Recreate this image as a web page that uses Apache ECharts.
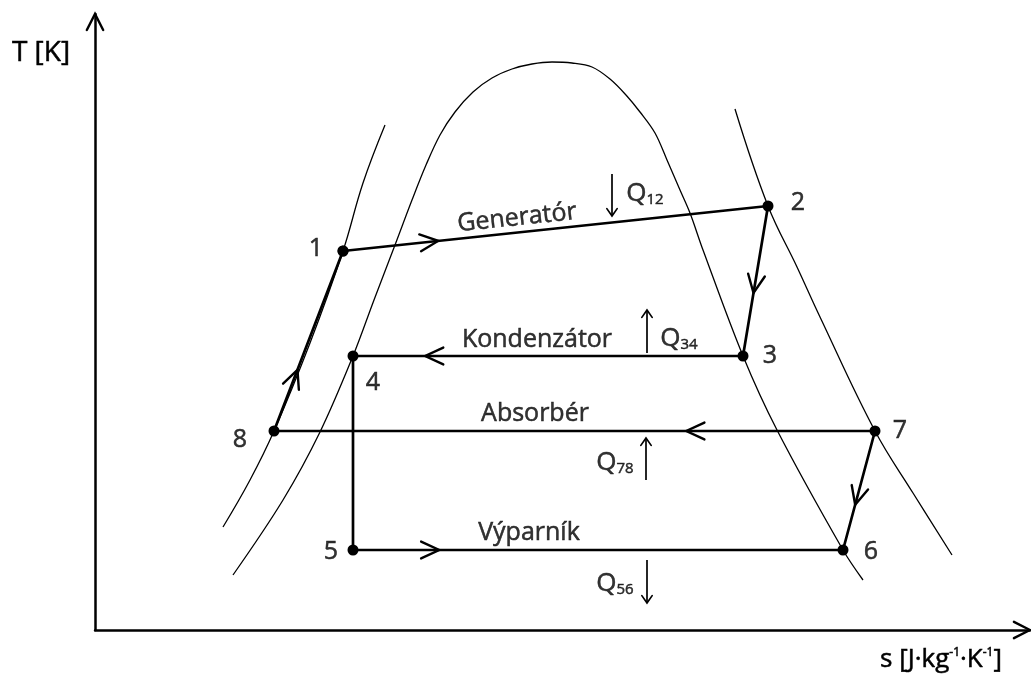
<!DOCTYPE html>
<html><head><meta charset="utf-8">
<script src="https://cdn.jsdelivr.net/npm/echarts@6/dist/echarts.min.js"></script>
<style>html,body{margin:0;padding:0;background:#fff}#c{width:1031px;height:682px}</style>
</head><body><div id="c"></div>
<script>
// Schematic T–s diagram of an absorption cycle (arbitrary units)
const pointNames = ['1','2','3','4','5','6','7','8'];
const pointS = [248, 673, 648, 258, 258, 748, 780, 179];
const pointT = [379, 424, 274, 274, 80, 80, 199, 199];

// thin curves
const curveLeftS = [290, 268, 248, 215, 179, 155, 128];
const curveLeftT = [505, 447, 379, 287, 199, 150, 103];
const domeS = [138, 188, 225, 258, 279, 300, 317, 331, 345, 360, 378, 397, 417, 437, 457, 477, 497, 515, 531, 545, 560, 572, 585, 595, 608, 648, 682, 748, 768];
const domeT = [55, 130, 198, 274, 330, 385, 430, 465, 495, 518, 538, 552, 561, 566, 568, 567, 563, 551, 535, 518, 497, 470, 440, 417, 380, 274, 200, 80, 50];
const curveRightS = [640, 673, 702, 725, 780, 818, 857];
const curveRightT = [521, 424, 363, 313, 199, 137, 75];

// cycle order
const cycleOrder = [0, 1, 2, 3, 4, 5, 6, 7, 0];

// flow direction arrows on cycle lines: from point, to point, fraction along
const flowFrom = [0, 1, 2, 4, 6, 6, 7];
const flowTo   = [1, 2, 3, 5, 5, 7, 0];
const flowAt   = [0.224, 0.58, 0.815, 0.176, 0.62, 0.314, 0.34];

// heat arrows: s, T start, T end (head)
const heatS    = [517, 552, 551, 552];
const heatFrom = [456, 277, 150, 70];
const heatTo   = [414, 320, 192, 27];

// process names
const procNames = ['Generatór', 'Kondenzátor', 'Absorbér', 'Výparník'];
const procS = [422, 442, 440, 434];
const procT = [412, 290, 216, 97];
const procRot = [6, 0, 0, 0];

// heat labels
const heatSub = ['12', '34', '78', '56'];
const heatLabS = [550, 584, 520, 520];
const heatLabT = [436, 291, 167, 46];

// point label anchors
const numLabS = [221, 703, 675, 278, 236, 776, 805, 145];
const numLabT = [381, 427, 274, 247, 78, 78, 199, 190];

const S_MAX = 935, T_MAX = 616;
const FONT = '"Open Sans", "Noto Sans", sans-serif';

function zip(a, b) { return a.map((v, i) => [v, b[i]]); }

function chevron(tip, dir, len, halfDeg, width) {
  const a = halfDeg * Math.PI / 180, c = Math.cos(a), s = Math.sin(a);
  const bx = -dir[0], by = -dir[1];
  const p1 = [tip[0] + len * (bx * c - by * s), tip[1] + len * (bx * s + by * c)];
  const p2 = [tip[0] + len * (bx * c + by * s), tip[1] + len * (-bx * s + by * c)];
  return {type: 'polyline', shape: {points: [p1, tip, p2]},
    style: {stroke: '#000', lineWidth: width, fill: null, lineJoin: 'miter', lineCap: 'round'}};
}
function arrowRenderer(len, half, width) {
  return function (params, api) {
    const a = api.coord([api.value(0), api.value(1)]);
    const b = api.coord([api.value(2), api.value(3)]);
    const t = api.value(4);
    const dx = b[0] - a[0], dy = b[1] - a[1], L = Math.hypot(dx, dy);
    const tip = [a[0] + t * dx, a[1] + t * dy];
    return chevron(tip, [dx / L, dy / L], len, half, width);
  };
}

const flowData = flowFrom.map((f, i) => [pointS[f], pointT[f], pointS[flowTo[i]], pointT[flowTo[i]], flowAt[i]]);
const axisArrowData = [[0, 0, S_MAX, 0, 1], [0, 0, 0, T_MAX, 1]];
const heatData = heatS.map((s, i) => [s, heatFrom[i], s, heatTo[i]]);

const thin = {color: '#000', width: 1.3};
const ink = {textBorderColor: '#000', textBorderWidth: 0.5};
const textBase = Object.assign({color: '#000', fontFamily: FONT, fontSize: 25}, ink);

const option = {
  animation: false,
  backgroundColor: '#fff',
  grid: {left: 95, right: 1, top: 14, bottom: 52, containLabel: false, outerBoundsMode: 'none'},
  xAxis: {type: 'value', min: 0, max: S_MAX, splitLine: {show: false}, axisTick: {show: false}, axisLabel: {show: false},
    axisLine: {show: true, onZero: false, lineStyle: {color: '#000', width: 2.5}}},
  yAxis: {type: 'value', min: 0, max: T_MAX, splitLine: {show: false}, axisTick: {show: false}, axisLabel: {show: false},
    axisLine: {show: true, onZero: false, lineStyle: {color: '#000', width: 2.5}}},
  graphic: [
    {type: 'text', x: 41, y: 53, style: {text: 'T [K]', font: '28px ' + FONT, fill: '#000', stroke: '#000', lineWidth: 0.5,
      textAlign: 'center', textVerticalAlign: 'middle'}},
    {type: 'text', x: 941, y: 660, style: {
      text: '{n|s [J·kg}{p|-1}{n|·K}{p|-1}{n|]}', fill: '#000', stroke: '#000', lineWidth: 0.5, textAlign: 'center', textVerticalAlign: 'middle',
      rich: {n: {fontSize: 26, fontFamily: FONT, fill: '#000', verticalAlign: 'bottom'},
             p: {fontSize: 12, fontFamily: FONT, fill: '#000', verticalAlign: 'top'}}}}
  ],
  series: [
    {type: 'line', data: zip(curveLeftS, curveLeftT), smooth: 0.4, symbol: 'none', lineStyle: thin, silent: true},
    {type: 'line', data: zip(domeS, domeT), smooth: 0.35, symbol: 'none', lineStyle: thin, silent: true},
    {type: 'line', data: zip(curveRightS, curveRightT), smooth: 0.4, symbol: 'none', lineStyle: thin, silent: true},
    {type: 'line', data: cycleOrder.map(i => [pointS[i], pointT[i]]), symbol: 'circle', symbolSize: 11,
      itemStyle: {color: '#000'}, lineStyle: {color: '#000', width: 2.7}, silent: true},
    {type: 'custom', renderItem: arrowRenderer(20, 25, 2.4), data: flowData, clip: false, silent: true},
    {type: 'custom', renderItem: arrowRenderer(18, 27, 2.4), data: axisArrowData, clip: false, silent: true},
    {type: 'custom', silent: true, clip: false, data: heatData,
      renderItem: function (params, api) {
        const a = api.coord([api.value(0), api.value(1)]);
        const b = api.coord([api.value(2), api.value(3)]);
        const dx = b[0] - a[0], dy = b[1] - a[1], L = Math.hypot(dx, dy);
        return {type: 'group', children: [
          {type: 'line', shape: {x1: a[0], y1: a[1], x2: b[0], y2: b[1]}, style: {stroke: '#000', lineWidth: 1.7}},
          chevron(b, [dx / L, dy / L], 9, 35, 1.7)
        ]};
      }},
    // point numbers
    {type: 'scatter', symbolSize: 0, silent: true, clip: false,
      data: pointNames.map((n, i) => ({name: n, value: [numLabS[i], numLabT[i]]})),
      label: Object.assign({show: true, position: 'inside', formatter: '{b}'}, textBase)},
    // process names
    {type: 'scatter', symbolSize: 0, silent: true, clip: false,
      data: procNames.map((n, i) => ({name: n, value: [procS[i], procT[i]], label: {rotate: procRot[i]}})),
      label: Object.assign({show: true, position: 'inside', formatter: '{b}'}, textBase)},
    // heat labels
    {type: 'scatter', symbolSize: 0, silent: true, clip: false,
      data: heatSub.map((n, i) => ({name: n, value: [heatLabS[i], heatLabT[i]]})),
      label: {show: true, position: 'inside', formatter: '{q|Q}{d|{b}}',
        rich: {q: Object.assign({fontSize: 26, fontFamily: FONT, color: '#000', verticalAlign: 'bottom'}, ink),
               d: Object.assign({fontSize: 15, fontFamily: FONT, color: '#000', verticalAlign: 'bottom'}, ink)}}}
  ]
};
const chart = echarts.init(document.getElementById('c'), null, {renderer: 'canvas'});
chart.setOption(option);
</script></body></html>
